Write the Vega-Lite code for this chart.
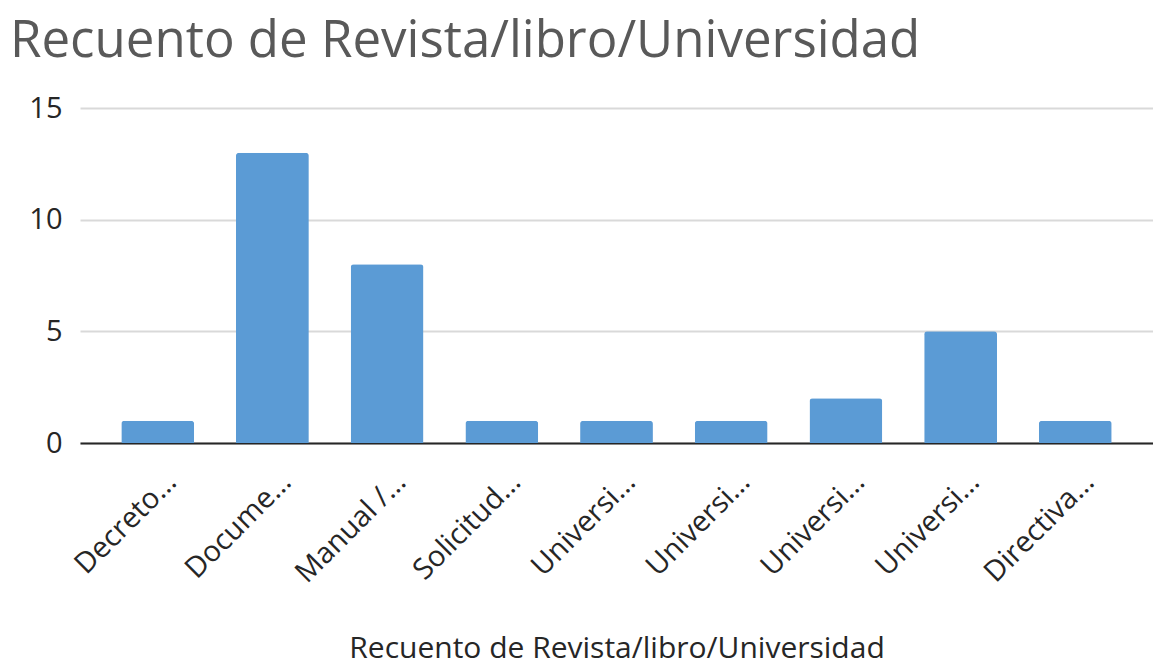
{
  "$schema": "https://vega.github.io/schema/vega-lite/v6.json",
  "autosize": {"type": "none"},
  "padding": {"left": 80, "top": 108, "right": 0, "bottom": 225},
  "width": 1073,
  "height": 335,
  "background": "white",
  "config": {
    "font": "Open Sans",
    "view": {"stroke": null}
  },
  "title": {
    "text": "Recuento de Revista/libro/Universidad",
    "anchor": "start",
    "frame": "group",
    "dx": -70,
    "offset": 26,
    "fontSize": 51,
    "fontWeight": "normal",
    "font": "Open Sans",
    "color": "#595959"
  },
  "data": {
    "values": [
      {"categoria": "Decreto…", "recuento": 1},
      {"categoria": "Docume…", "recuento": 13},
      {"categoria": "Manual /…", "recuento": 8},
      {"categoria": "Solicitud…", "recuento": 1},
      {"categoria": "Universi…#1", "recuento": 1},
      {"categoria": "Universi…#2", "recuento": 1},
      {"categoria": "Universi…#3", "recuento": 2},
      {"categoria": "Universi…#4", "recuento": 5},
      {"categoria": "Directiva…", "recuento": 1}
    ]
  },
  "mark": {"type": "bar", "color": "#5B9BD5", "cornerRadiusTopLeft": 3, "cornerRadiusTopRight": 3},
  "encoding": {
    "x": {
      "field": "categoria",
      "type": "nominal",
      "sort": null,
      "scale": {"paddingInner": 0.365, "paddingOuter": 0.36},
      "axis": {
        "title": "Recuento de Revista/libro/Universidad",
        "titleFont": "Open Sans",
        "titleFontSize": 30,
        "titleFontWeight": "normal",
        "titleColor": "#262626",
        "titleBaseline": "alphabetic",
        "titleY": 214,
        "labelExpr": "split(datum.value, '#')[0]",
        "labelAngle": -45,
        "labelAlign": "right",
        "labelBaseline": "middle",
        "labelFontSize": 29,
        "labelColor": "#262626",
        "labelOffset": 14,
        "labelPadding": 34,
        "ticks": false,
        "domainColor": "#262626",
        "domainWidth": 2,
        "grid": false
      }
    },
    "y": {
      "field": "recuento",
      "type": "quantitative",
      "scale": {"domain": [0, 15], "nice": false},
      "axis": {
        "title": null,
        "values": [0, 5, 10, 15],
        "domain": false,
        "ticks": false,
        "labelFontSize": 29,
        "labelColor": "#262626",
        "labelPadding": 18,
        "gridColor": "#D9D9D9",
        "gridWidth": 2
      }
    }
  }
}
